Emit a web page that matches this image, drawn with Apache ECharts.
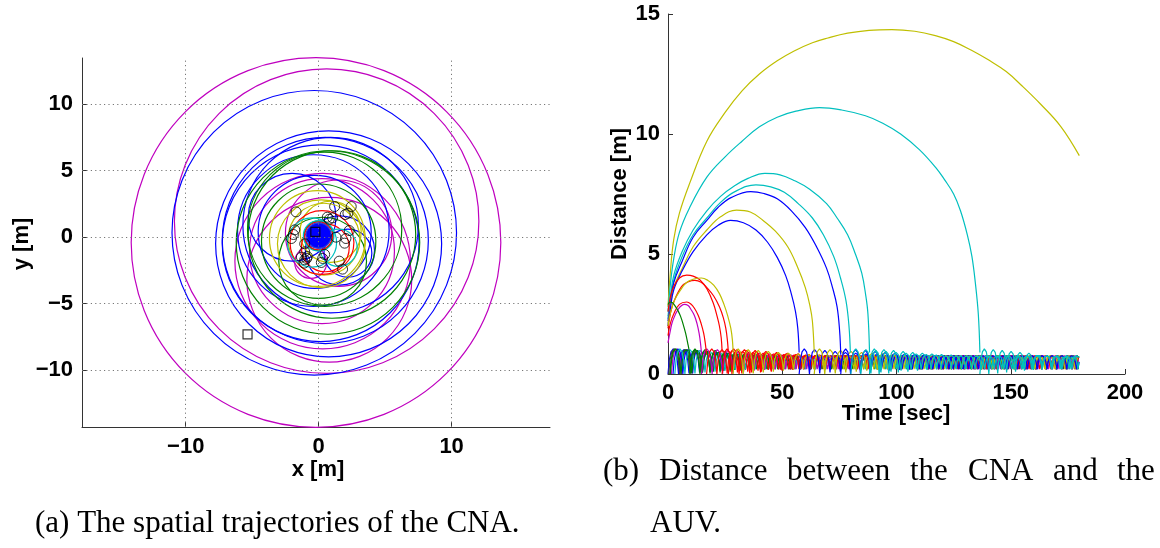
<!DOCTYPE html>
<html>
<head>
<meta charset="utf-8">
<script src="https://cdn.jsdelivr.net/npm/echarts@6/dist/echarts.min.js"></script>
<style>
  html, body { margin: 0; padding: 0; background: #fff; }
  #chart { width: 1160px; height: 548px; }
</style>
</head>
<body>
<div id="chart"></div>
<script>
// ---- (a) spatial trajectories: circles as [cx, cy, r] in metres ----
const blueRings = [
  [-0.33, 0.33, 10.7], [0.75, -0.5, 8.5], [0.5, -0.25, 7.75], [0.15, -0.45, 7.4],
  [-0.4, 0.5, 5.7], [-0.3, 0.4, 4.25], [-2.0, 1.5, 3.3], [1.6, -1.0, 2.6],
  [2.2, -1.2, 1.8], [0.9, 0.9, 6.6]
];
const greenRings = [
  [0.7, -0.4, 6.9], [0.45, 0.6, 5.8], [0.0, -0.3, 4.3], [0.3, -1.8, 3.3],
  [1.0, 0.2, 6.3], [0.0, 0.1, 1.1]
];
const magentaRings = [
  [-0.2, -0.4, 13.9], [0.6, 1.2, 11.45], [0.25, -1.05, 5.45], [0.3, -1.8, 6.6],
  [0.8, -3.2, 6.2], [1.5, 0.3, 4.0], [-0.6, -1.9, 1.2]
];
const yellowRings = [[-0.1, -0.1, 3.6], [0.4, -0.15, 2.7], [0.2, -0.5, 3.3], [0.9, 0.4, 2.3]];
const redRings = [[0.25, -0.4, 2.4], [0.5, -0.8, 1.8], [0.0, 0.1, 1.05]];
const cyanRings = [[-0.5, -0.4, 1.85], [1.5, -0.8, 1.4], [0.0, 0.1, 1.15]];
const centreDisk = [[0.0, 0.12, 0.95]];
const cnaEnds = [
  [-1.7, 1.9], [1.2, 2.3], [2.45, 2.3], [0.65, 1.5], [1.05, 1.45], [0.8, 1.35], [2.0, 1.7],
  [2.2, 1.8], [-1.8, 0.55], [-1.9, 0.2], [-2.05, -0.1], [2.3, 0.5], [2.05, -0.1], [1.95, -0.45],
  [1.3, 0.0], [-1.05, -0.5], [-1.05, -1.1], [-0.85, -1.45], [-1.05, -1.7], [-0.9, -1.6],
  [-1.1, -1.95], [0.3, -1.6], [0.45, -1.3], [1.55, -1.8], [1.8, -2.4], [0.2, -1.9], [-1.3, -1.5]
];
const startMarks = [[-5.35, -7.3], [-0.25, 0.4]];
const ticksA_x = [-10, 0, 10];
const ticksA_y = [-10, -5, 0, 5, 10];

// ---- (b) distance vs time: arcs as [t, d] ----
const arcYellowA = [[0,2.8],[1,4.2],[2.5,5.6],[5,6.7],[9.3,7.9],[17,9.7],[25,10.9],[32.4,11.8],[40,12.5],[47.8,13.05],[55,13.45],[63.2,13.8],[70,14.0],[78.6,14.2],[88,14.32],[98,14.35],[108,14.28],[117,14.1],[125,13.85],[132.6,13.5],[140,13.1],[148,12.6],[155,12.0],[163,11.25],[172,10.3],[180,9.1]];
const arcCyanA = [[0,2.6],[1,3.7],[2.5,4.8],[5,5.9],[9.3,6.9],[17,8.2],[25,9.05],[32.4,9.7],[40,10.3],[47.8,10.7],[56,10.95],[66.3,11.1],[76,11.0],[86.4,10.76],[94,10.45],[101.8,10.0],[110,9.35],[117.2,8.6],[121,8.1],[125,7.5],[128,6.8],[131,5.8],[133,4.9],[134.5,3.8],[135.8,2.5],[136.5,0.9]];
const arcCyanB = [[0,2.4],[1,3.2],[2.5,4.1],[6.2,5.1],[11,6.0],[17,6.8],[23,7.4],[29.3,7.85],[35,8.15],[42.4,8.36],[49,8.3],[55.5,8.05],[62,7.7],[69.4,7.1],[74,6.5],[78.6,5.8],[82,5.0],[84.8,4.2],[86.5,3.3],[87.5,2.5],[88.2,0.9]];
const arcCyanC = [[0,2.3],[1,3.0],[2.5,3.9],[6.2,4.9],[11,5.8],[17,6.5],[23,7.15],[29.3,7.6],[38.5,7.88],[45,7.8],[50.9,7.57],[57,7.1],[63.2,6.5],[68,5.8],[72.5,4.9],[75.5,4.0],[77.9,3.05],[79.2,2.0],[79.8,0.9]];
const arcBlueA = [[0,2.2],[1,2.9],[2.5,3.8],[6.2,4.7],[11,5.7],[17,6.4],[22,6.95],[27.8,7.36],[36.2,7.6],[42,7.52],[47.8,7.3],[54,6.8],[60.1,6.1],[65,5.3],[69.4,4.4],[72,3.6],[74,2.8],[75.1,1.8],[75.6,0.8]];
const arcYellowB = [[0,2.1],[1,2.8],[2.5,3.6],[6.2,4.4],[11,5.3],[17,6.0],[23,6.55],[30,6.83],[36,6.75],[41.6,6.4],[47,5.95],[52.4,5.3],[56.5,4.5],[60.1,3.6],[62.2,2.8],[63.2,2.2],[64,0.9]];
const arcBlueB = [[0,2.0],[1,2.7],[2.5,3.5],[6.2,4.3],[11,5.1],[17,5.8],[22,6.2],[27.4,6.4],[33,6.3],[38.5,6.0],[43.5,5.5],[47.8,4.86],[51.5,4.1],[54,3.33],[55.8,2.6],[56.8,1.9],[57.4,0.9]];
const arcRedA = [[0,2.6],[1,3.2],[2.3,3.6],[5,4.0],[8.2,4.12],[11,4.08],[14,3.92],[17,3.55],[19.8,2.96],[21.5,2.4],[22.5,2.0],[23.3,1.5],[23.7,0.9]];
const arcRedB = [[0,1.9],[1,2.5],[2.5,3.0],[6,3.65],[9,3.85],[11.8,3.9],[14.5,3.82],[17,3.6],[20,3.25],[22.5,2.8],[24.2,2.35],[25.3,1.9],[26,1.4],[26.4,0.9]];
const arcYellowC = [[0,2.0],[1.2,2.6],[3,3.1],[5.5,3.5],[8,3.8],[11,3.95],[14.6,4.0],[17.5,3.9],[20,3.7],[22.5,3.35],[24.5,2.9],[26.2,2.4],[27.5,1.9],[28.2,1.4],[28.5,0.9]];
const arcRedC = [[0,1.6],[1,2.1],[2.5,2.5],[5,2.9],[8.2,3.0],[10,2.92],[11.5,2.75],[13.2,2.45],[14.5,2.1],[15.6,1.7],[16.3,1.3],[16.9,0.8]];
const arcMagentaA = [[0,1.3],[1,1.8],[2,2.2],[4.5,2.7],[7.2,2.9],[8.8,2.85],[10,2.7],[11.5,2.45],[12.7,2.1],[13.6,1.7],[14.2,1.3],[14.7,0.8]];
const arcGreenA = [[0,2.9],[0.9,3.0],[2,2.97],[3,2.85],[4.3,2.65],[5.5,2.4],[6.7,2.05],[7.7,1.7],[8.6,1.3],[9.2,1.0],[9.6,0.6]];

// oscillation band near the AUV: entry time and period of each trajectory
const bandStarts  = [0.0, 0.8, 0.3, 1.5, 2.2, 1.0, 3.0, 9.6, 14.7, 16.9, 23.7, 26.4, 28.5, 57.4, 64.0, 75.6, 80.0, 88.2, 136.5];
const bandPeriods = [4.6, 4.4, 4.8, 4.5, 4.3, 4.7, 4.4, 4.4, 4.6, 4.5, 4.3, 4.7, 4.4, 4.5, 4.6, 4.3, 4.4, 4.2, 3.9];
const bandPeaks = [1.05, 1.02, 0.98, 0.94, 0.9, 0.87, 0.84, 0.81, 0.79];
const bandLows = [0.0, 0.02, 0.06, 0.1, 0.14, 0.17, 0.19];
const steadyPeak = 0.76, steadyLow = 0.2, bandEnd = 180;
const humpX = [0, 0.12, 0.28, 0.5, 0.72, 0.88, 1];
const humpY = [0, 0.55, 0.88, 1, 0.88, 0.55, 0];
const ticksB_x = [0, 50, 100, 150, 200];
const ticksB_y = [0, 5, 10, 15];

const COL = { b: '#0000ff', g: '#008000', r: '#ff0000', c: '#00bfbf', m: '#bf00bf', y: '#bfbf00', k: '#404040' };
const bandColors = ['b','g','k','m','b','g','c','g','m','r','r','r','y','b','y','b','c','c','c'];

function bandLine(start, period) {
  const pts = [];
  for (let k = 0; ; k++) {
    const lo = k < bandLows.length ? bandLows[k] : steadyLow;
    const hi = k < bandPeaks.length ? bandPeaks[k] : steadyPeak;
    let done = false;
    for (let j = (k === 0 ? 0 : 1); j < humpX.length; j++) {
      const t = start + (k + humpX[j]) * period;
      if (t > bandEnd) { done = true; break; }
      pts.push([t, lo + (hi - lo) * humpY[j]]);
    }
    if (done) break;
  }
  return pts;
}

function ringRenderer(color, fill) {
  return function (params, api) {
    const c = api.coord([api.value(0), api.value(1)]);
    const r = api.size([api.value(2), 0])[0];
    return {
      type: 'circle',
      shape: { cx: c[0], cy: c[1], r: r },
      style: { fill: fill || 'none', stroke: color, lineWidth: 1.2 }
    };
  };
}

const tickFont = { fontFamily: 'Liberation Sans', fontWeight: 'bold', fontSize: 22, color: '#000' };
const minus = v => String(v).replace('-', '\u2212');
const axisLine = { show: true, onZero: false, lineStyle: { color: '#333', width: 1 } };

const series = [];
// grid lines of (a)
series.push({
  type: 'line', xAxisIndex: 0, yAxisIndex: 0, data: [], z: 1, silent: true,
  markLine: {
    silent: true, symbol: ['none', 'none'], label: { show: false }, animation: false,
    lineStyle: { type: [1.2, 3.2], color: '#777', width: 1 },
    data: ticksA_x.map(v => ({ xAxis: v })).concat(ticksA_y.map(v => ({ yAxis: v })))
  }
});
[[magentaRings, COL.m], [blueRings, COL.b], [greenRings, COL.g], [yellowRings, COL.y],
 [redRings, COL.r], [cyanRings, COL.c]].forEach(([d, col]) => {
  series.push({
    type: 'custom', coordinateSystem: 'cartesian2d', xAxisIndex: 0, yAxisIndex: 0,
    encode: { x: 0, y: 1 }, data: d, renderItem: ringRenderer(col), z: 2
  });
});
series.push({
  type: 'custom', coordinateSystem: 'cartesian2d', xAxisIndex: 0, yAxisIndex: 0,
  encode: { x: 0, y: 1 }, data: centreDisk, renderItem: ringRenderer('#2a3fd0', COL.b), z: 3
});
series.push({
  type: 'scatter', xAxisIndex: 0, yAxisIndex: 0, data: cnaEnds, symbol: 'circle', symbolSize: 10,
  itemStyle: { color: 'rgba(0,0,0,0)', borderColor: '#000', borderWidth: 1 }, z: 4
});
series.push({
  type: 'scatter', xAxisIndex: 0, yAxisIndex: 0, data: startMarks, symbol: 'rect', symbolSize: 9,
  itemStyle: { color: 'rgba(0,0,0,0)', borderColor: '#000', borderWidth: 1.2 }, z: 5
});

// (b) band first, then arcs
bandStarts.forEach((s, i) => {
  series.push({
    type: 'line', xAxisIndex: 1, yAxisIndex: 1, data: bandLine(s, bandPeriods[i]),
    showSymbol: false, lineStyle: { color: COL[bandColors[i]], width: 1.2 }, z: 2
  });
});
[[arcYellowA, 'y'], [arcCyanA, 'c'], [arcCyanB, 'c'], [arcCyanC, 'c'], [arcBlueA, 'b'],
 [arcYellowB, 'y'], [arcBlueB, 'b'], [arcRedA, 'r'], [arcRedB, 'r'], [arcYellowC, 'y'],
 [arcRedC, 'r'], [arcMagentaA, 'm'], [arcGreenA, 'g']].forEach(([d, c]) => {
  series.push({
    type: 'line', xAxisIndex: 1, yAxisIndex: 1, data: d, showSymbol: false,
    smooth: 0.4, lineStyle: { color: COL[c], width: 1.2 }, z: 2
  });
});

const labelFont = 'bold 22px "Liberation Sans"';
const capFont = '31px "Liberation Serif"';
const texts = [
  { type: 'text', x: 318, y: 470, style: { text: 'x [m]', font: labelFont, fill: '#000', textAlign: 'center', textVerticalAlign: 'middle' } },
  { type: 'text', x: 22, y: 244, rotation: Math.PI / 2, style: { text: 'y [m]', font: labelFont, fill: '#000', textAlign: 'center', textVerticalAlign: 'middle' } },
  { type: 'text', x: 896, y: 414, style: { text: 'Time [sec]', font: labelFont, fill: '#000', textAlign: 'center', textVerticalAlign: 'middle' } },
  { type: 'text', x: 620, y: 194, rotation: Math.PI / 2, style: { text: 'Distance [m]', font: labelFont, fill: '#000', textAlign: 'center', textVerticalAlign: 'middle' } },
  { type: 'text', x: 35, y: 524, style: { text: '(a) The spatial trajectories of the CNA.', font: capFont, fill: '#000', textAlign: 'left', textVerticalAlign: 'middle' } },
  { type: 'text', x: 650, y: 524, style: { text: 'AUV.', font: capFont, fill: '#000', textAlign: 'left', textVerticalAlign: 'middle' } }
];
// justified first caption line of (b)
[['(b)', 603], ['Distance', 659], ['between', 787], ['the', 910], ['CNA', 968], ['and', 1053], ['the', 1117]].forEach(([w, x]) => {
  texts.push({ type: 'text', x: x, y: 472, style: { text: w, font: capFont, fill: '#000', textAlign: 'left', textVerticalAlign: 'middle' } });
});

const chart = echarts.init(document.getElementById('chart'), null, { renderer: 'canvas' });
chart.setOption({
  animation: false,
  backgroundColor: '#fff',
  grid: [
    { left: 82, top: 58, width: 468, height: 369 },
    { left: 668, top: 14, width: 457, height: 360 }
  ],
  xAxis: [
    {
      type: 'value', gridIndex: 0, min: -17.8, max: 17.4, axisLine: axisLine,
      axisTick: { show: true, inside: true, length: 5, customValues: ticksA_x, lineStyle: { color: '#333' } },
      axisLabel: Object.assign({ customValues: ticksA_x, formatter: minus, margin: 9 }, tickFont),
      splitLine: { show: false }
    },
    {
      type: 'value', gridIndex: 1, min: 0, max: 200, interval: 50, axisLine: axisLine,
      axisTick: { show: true, inside: true, length: 5, lineStyle: { color: '#333' } },
      axisLabel: Object.assign({ margin: 8, showMaxLabel: true }, tickFont),
      splitLine: { show: false }
    }
  ],
  yAxis: [
    {
      type: 'value', gridIndex: 0, min: -14.26, max: 13.46, axisLine: axisLine,
      axisTick: { show: true, inside: true, length: 5, customValues: ticksA_y, lineStyle: { color: '#333' } },
      axisLabel: Object.assign({ customValues: ticksA_y, formatter: minus, margin: 9 }, tickFont),
      splitLine: { show: false }
    },
    {
      type: 'value', gridIndex: 1, min: 0, max: 15, interval: 5, axisLine: axisLine,
      axisTick: { show: true, inside: true, length: 5, lineStyle: { color: '#333' } },
      axisLabel: Object.assign({ margin: 8, showMaxLabel: true }, tickFont),
      splitLine: { show: false }
    }
  ],
  graphic: { elements: texts },
  series: series
});
</script>
</body>
</html>
